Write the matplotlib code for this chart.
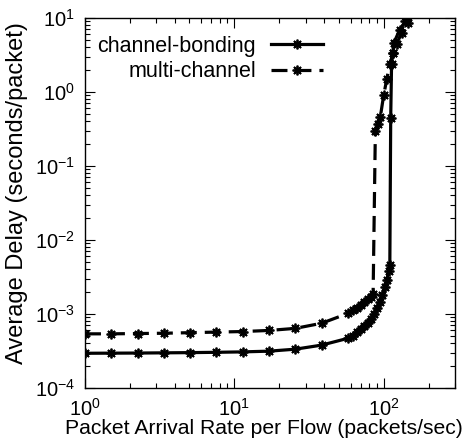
import numpy as np
import matplotlib
matplotlib.use("Agg")
import matplotlib.pyplot as plt
from matplotlib.ticker import LogLocator, NullFormatter

plt.rcParams['font.family'] = ['Liberation Sans', 'DejaVu Sans']
plt.rcParams['mathtext.default'] = 'regular'
plt.rcParams['axes.unicode_minus'] = False

# channel-bonding: packet arrival rate (packets/sec) vs. average delay (s/packet)
cb_rate = [1, 1.5, 2.25, 3.38, 5.06, 7.59, 11.4, 17.1, 25.6, 38.4, 57.7,
           62, 66, 70, 74, 78, 82, 86, 90, 94, 98, 102, 105, 108, 110,
           111.5, 113, 115, 117, 128, 140, 150]
cb_delay = [2.95e-4, 2.96e-4, 2.97e-4, 2.99e-4, 3.01e-4, 3.04e-4, 3.08e-4,
            3.15e-4, 3.35e-4, 3.8e-4, 4.7e-4,
            5.1e-4, 5.7e-4, 6.3e-4, 6.9e-4, 7.6e-4, 8.6e-4, 1.0e-3, 1.2e-3,
            1.45e-3, 1.8e-3, 2.3e-3, 2.9e-3, 3.8e-3, 4.6e-3,
            0.45, 2.4, 3.4, 4.6, 6.9, 9.0, 12.0]

# multi-channel
mc_rate = [1, 1.5, 2.25, 3.38, 5.06, 7.59, 11.4, 17.1, 25.6, 38.4, 57.7,
           62, 66, 70, 74, 78, 82, 85,
           88, 91, 95, 100, 105, 110, 116, 122, 132, 145, 160]
mc_delay = [5.4e-4, 5.4e-4, 5.45e-4, 5.5e-4, 5.6e-4, 5.7e-4, 5.8e-4, 6.0e-4,
            6.4e-4, 7.5e-4, 1.02e-3,
            1.12e-3, 1.22e-3, 1.33e-3, 1.45e-3, 1.58e-3, 1.72e-3, 1.85e-3,
            0.3, 0.37, 0.46, 0.9, 1.5, 2.4, 3.4, 4.5, 6.2, 8.5, 11.5]

fig = plt.figure(figsize=(4.68, 4.45), dpi=100)
ax = fig.add_axes([0.1816, 0.128, 0.7904, 0.8316])

star = (8, 2, 0)
ax.plot(cb_rate, cb_delay, color='black', lw=2.3, marker=star,
        markersize=7, markeredgewidth=1.3, label='channel-bonding')
ax.plot(mc_rate, mc_delay, color='black', lw=2.3, linestyle=(0, (5, 2.5)),
        marker=star, markersize=7, markeredgewidth=1.3, label='multi-channel')

ax.set_xscale('log')
ax.set_yscale('log')
ax.set_xlim(1, 300)
ax.set_ylim(1e-4, 10)

ax.xaxis.set_minor_locator(LogLocator(base=10, subs=np.arange(2, 10)))
ax.yaxis.set_minor_locator(LogLocator(base=10, subs=np.arange(2, 10)))
ax.xaxis.set_minor_formatter(NullFormatter())
ax.yaxis.set_minor_formatter(NullFormatter())
ax.tick_params(which='both', direction='in', top=True, right=True,
               labelsize=14.5, width=0.8)
ax.tick_params(which='major', length=7, pad=7)
ax.tick_params(which='minor', length=3.5)

for side in ax.spines.values():
    side.set_linewidth(1.0)

ax.set_xlabel('Packet Arrival Rate per Flow (packets/sec)', fontsize=15.2)
ax.xaxis.set_label_coords(0.484, -0.085)
ax.set_ylabel('Average Delay (seconds/packet)', fontsize=17)
ax.yaxis.set_label_coords(-0.155, 0.527)

leg = ax.legend(loc='upper left', bbox_to_anchor=(0.01, 0.975), frameon=False,
                markerfirst=False, fontsize=15.5, handlelength=2.4,
                numpoints=1, handletextpad=0.7, labelspacing=0.2,
                borderaxespad=0)
for txt in leg.get_texts():
    txt.set_ha('right')
leg._legend_box.align = 'right'

fig.savefig('out.png', dpi=100)
